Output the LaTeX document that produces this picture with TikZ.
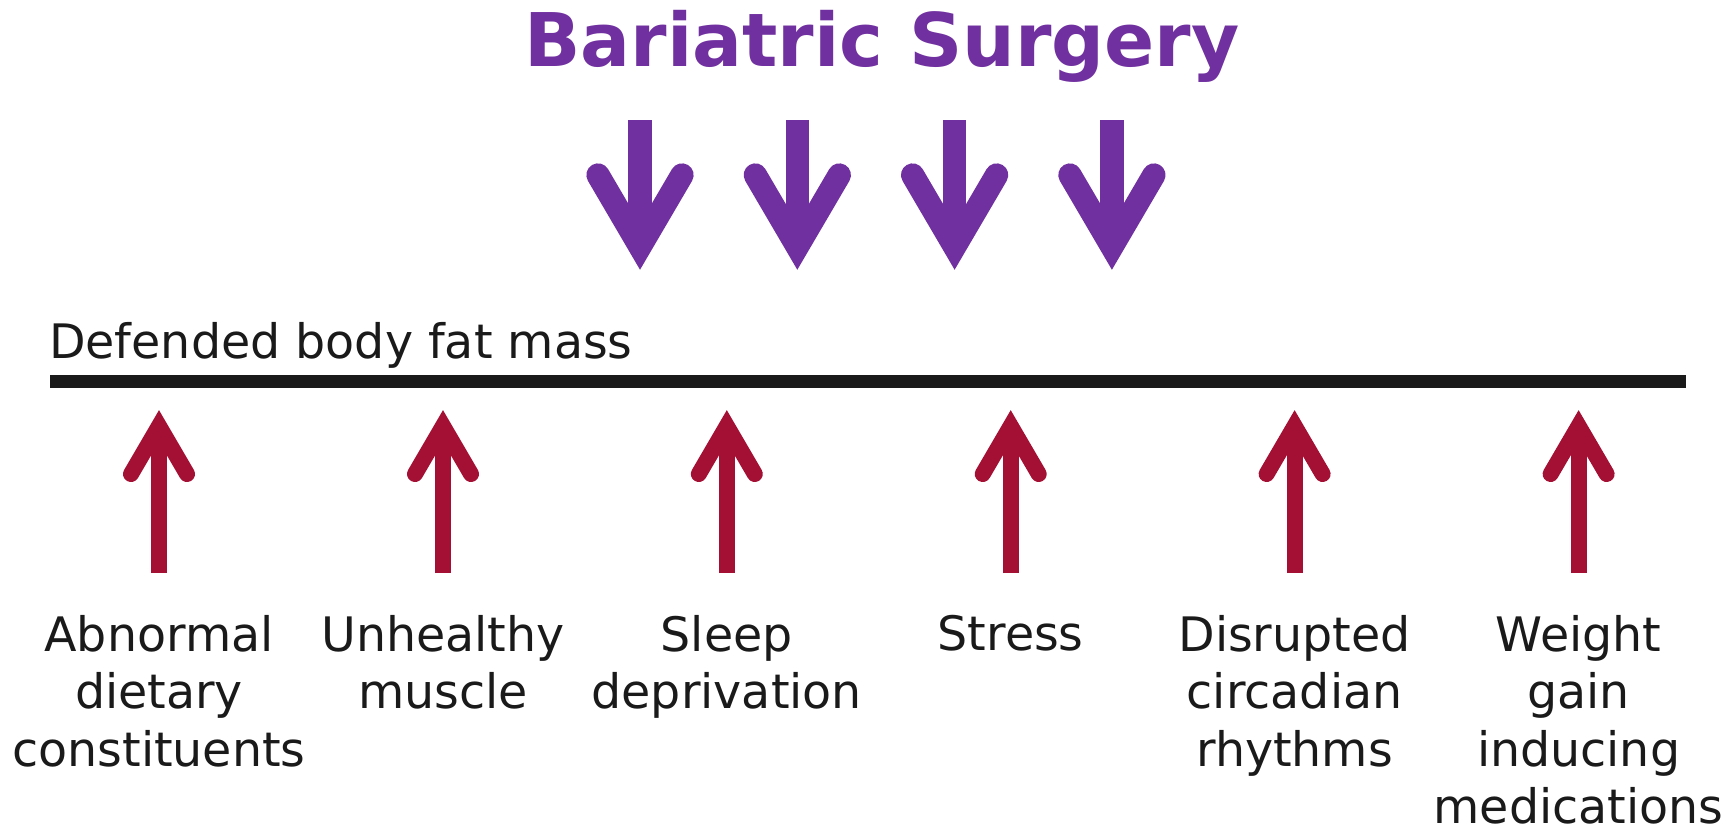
\documentclass[tikz,border=0pt]{standalone}
\usepackage{fontspec}
\setmainfont{DejaVu Sans}
\usepackage{xcolor}
\usetikzlibrary{positioning}

\definecolor{surgpurple}{HTML}{7030A0}
\definecolor{causered}{HTML}{A31034}
\definecolor{textgray}{HTML}{1A1A1A}

\begin{document}
\begin{tikzpicture}[
  x=0.5pt, y=-0.5pt,
  headline/.style={font=\fontsize{37}{44}\selectfont\bfseries, text=surgpurple, inner sep=0pt, anchor=base},
  cause/.style={font=\fontsize{23.75}{28.65}\selectfont, text=textgray, inner sep=0pt, align=center},
  massline/.style={draw=textgray, line width=6.35pt},
  surgshaft/.style={draw=surgpurple, line width=11.65pt},
  surghead/.style={draw=surgpurple, line width=11.65pt, line cap=round, line join=miter},
  causeshaft/.style={draw=causered, line width=8pt},
  causehead/.style={draw=causered, line width=8pt, line cap=round, line join=miter}
]
\useasboundingbox (0,0) rectangle (1732,829);

\node[headline] (surgery) at (882,67) {Bariatric Surgery};

\coordinate (s1) at (640,120);   \coordinate (v1) at (640,246.7);
\coordinate (s2) at (797.3,120); \coordinate (v2) at (797.3,246.7);
\coordinate (s3) at (954.6,120); \coordinate (v3) at (954.6,246.7);
\coordinate (s4) at (1111.9,120);\coordinate (v4) at (1111.9,246.7);

\draw[surgshaft] (s1) -- (v1);
\draw[surgshaft] (s2) -- (v2);
\draw[surgshaft] (s3) -- (v3);
\draw[surgshaft] (s4) -- (v4);
\draw[surghead] (v1) +(-42,-71.7) -- (v1) -- +(42,-71.7);
\draw[surghead] (v2) +(-42,-71.7) -- (v2) -- +(42,-71.7);
\draw[surghead] (v3) +(-42,-71.7) -- (v3) -- +(42,-71.7);
\draw[surghead] (v4) +(-42,-71.7) -- (v4) -- +(42,-71.7);

\node[cause, anchor=base west] (mass) at (48.8,358) {Defended body fat mass};
\coordinate (massL) at (50.3,381.3);
\coordinate (massR) at (1685.7,381.3);
\draw[massline] (massL) -- (massR);

\coordinate (b1) at (159,573);    \coordinate (t1) at (159,426);
\coordinate (b2) at (443,573);    \coordinate (t2) at (443,426);
\coordinate (b3) at (726.8,573);  \coordinate (t3) at (726.8,426);
\coordinate (b4) at (1010.7,573); \coordinate (t4) at (1010.7,426);
\coordinate (b5) at (1294.6,573); \coordinate (t5) at (1294.6,426);
\coordinate (b6) at (1578.6,573); \coordinate (t6) at (1578.6,426);

\node[cause, below=21pt of b1] (diet) {Abnormal\\dietary\\constituents};
\node[cause, below=21pt of b2] (muscle) {Unhealthy\\muscle};
\node[cause, below=21pt of b3] (sleep) {Sleep\\deprivation};
\node[cause, below=21pt of b4] (stress) {Stress};
\node[cause, below=21pt of b5] (circadian) {Disrupted\\circadian\\rhythms};
\node[cause, below=21pt of b6] (meds) {Weight\\gain\\inducing\\medications};

\draw[causeshaft] (b1) -- (t1);
\draw[causeshaft] (b2) -- (t2);
\draw[causeshaft] (b3) -- (t3);
\draw[causeshaft] (b4) -- (t4);
\draw[causeshaft] (b5) -- (t5);
\draw[causeshaft] (b6) -- (t6);
\draw[causehead] (t1) +(-28,48) -- (t1) -- +(28,48);
\draw[causehead] (t2) +(-28,48) -- (t2) -- +(28,48);
\draw[causehead] (t3) +(-28,48) -- (t3) -- +(28,48);
\draw[causehead] (t4) +(-28,48) -- (t4) -- +(28,48);
\draw[causehead] (t5) +(-28,48) -- (t5) -- +(28,48);
\draw[causehead] (t6) +(-28,48) -- (t6) -- +(28,48);

\end{tikzpicture}
\end{document}
